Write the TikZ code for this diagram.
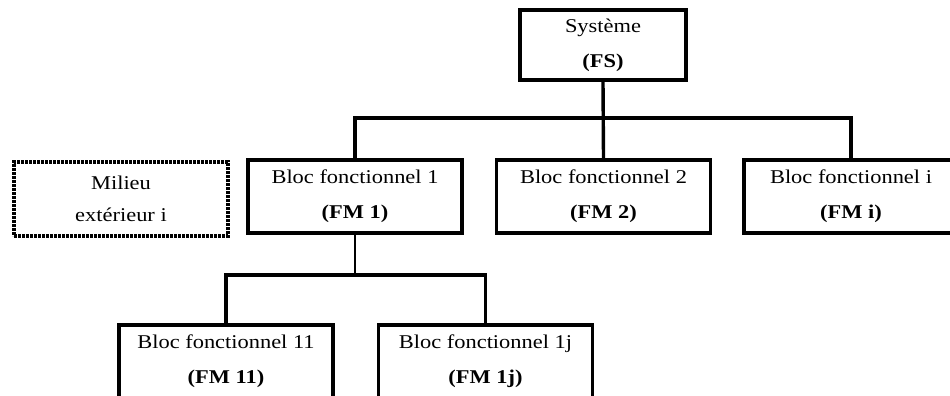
\documentclass[tikz,border=0pt]{standalone}
\usepackage{fontspec}
\setmainfont[FakeStretch=1.15]{Liberation Serif}
\begin{document}
\begin{tikzpicture}[x=1pt,y=-1pt,
  blk/.style={draw=black, line width=3.4pt, minimum width=214pt, minimum height=73pt,
    inner sep=0pt, align=center, font=\fontsize{19.5}{35}\selectfont},
  ext/.style={blk, line width=3.2pt, dash pattern=on 2.6pt off 1.4pt},
  conn/.style={draw=black, line width=3.4pt},
  thin/.style={draw=black, line width=1.6pt}]
\clip (0,0) rectangle (950,396);
\fill[white] (0,0) rectangle (950,396);
\node[blk, minimum width=166pt, minimum height=70pt] (fs) at (603,45) {Système\\\textbf{(FS)}};
\node[blk] (fm1) at (355,196.5) {Bloc fonctionnel 1\\\textbf{(FM 1)}};
\node[blk] (fm2) at (603.5,196.5) {Bloc fonctionnel 2\\\textbf{(FM 2)}};
\node[blk] (fmi) at (851,196.5) {Bloc fonctionnel i\\\textbf{(FM i)}};
\node[ext, minimum height=74pt, font=\fontsize{19.5}{32}\selectfont] (mil) at (121,199) {Milieu\\extérieur i};
\node[blk] (fm11) at (226,361.5) {Bloc fonctionnel 11\\\textbf{(FM 11)}};
\node[blk] (fm1j) at (485.5,361.5) {Bloc fonctionnel 1j\\\textbf{(FM 1j)}};
\coordinate (bus) at (603,118);
\coordinate (bus2) at (355,275);
\draw[conn] (fs.south) -- (fm2.north);
\draw[conn] (bus -| fm1.north) -- (fm1.north);
\draw[conn] (bus -| fmi.north) -- (fmi.north);
\draw[conn, line cap=rect] (bus -| fm1.north) -- (bus -| fmi.north);
\draw[thin] (fm1.south) -- (bus2);
\draw[conn] (bus2 -| fm11.north) -- (fm11.north);
\draw[conn] (bus2 -| fm1j.north) -- (fm1j.north);
\draw[conn, line cap=rect] (bus2 -| fm11.north) -- (bus2 -| fm1j.north);
\end{tikzpicture}
\end{document}
